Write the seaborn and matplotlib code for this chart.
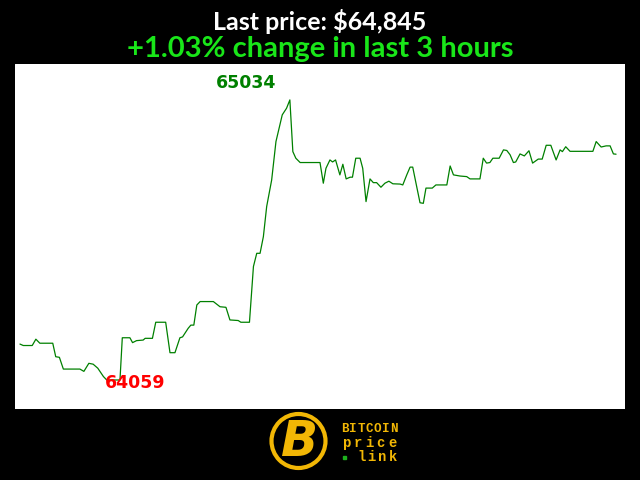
import numpy as np
import pandas as pd
import matplotlib.pyplot as plt
import seaborn as sns
from matplotlib.patches import Circle, Rectangle

sns.set_style("white")

# --- Data: BTC price over the last 3 hours (minutes since start) ---
minutes = [0.0, 1.0, 3.7, 4.8, 6.0, 9.9, 10.8, 11.9, 13.1, 18.1, 19.3, 20.8, 22.1, 23.5,
           25.2, 26.2, 30.2, 30.9, 33.2, 34.0, 35.2, 37.2, 37.8, 40.0, 41.0, 44.0, 45.3,
           46.8, 48.3, 49.1, 50.8, 51.6, 52.5, 53.4, 54.4, 58.4, 60.4, 62.2, 63.4, 65.9,
           66.7, 69.3, 70.5, 71.5, 72.5, 73.5, 74.5, 76.0, 77.3, 79.2, 80.5, 81.5, 82.4,
           83.3, 84.6, 90.6, 91.6, 92.4, 93.6, 94.4, 95.3, 96.6, 97.5, 98.5, 99.7, 100.4,
           101.4, 102.7, 103.5, 104.5, 105.7, 106.7, 107.7, 109.0, 110.2, 111.4, 112.6,
           114.8, 115.6, 116.8, 117.8, 118.6, 119.8, 120.8, 121.8, 122.6, 124.5, 125.6,
           128.9, 129.9, 130.9, 132.9, 134.9, 135.9, 138.9, 139.9, 140.9, 141.9, 142.8,
           144.7, 146.0, 147.0, 148.0, 149.0, 149.7, 151.0, 152.3, 153.7, 154.8, 156.5,
           157.7, 158.9, 160.3, 161.9, 163.1, 163.8, 164.8, 166.1, 173.0, 174.0, 175.5,
           177.0, 178.2, 179.2, 180.0]
prices = [64184, 64179, 64179, 64201, 64187, 64187, 64140, 64138, 64097, 64097, 64089,
          64117, 64114, 64100, 64071, 64059, 64059, 64206, 64206, 64189, 64196, 64198,
          64204, 64204, 64260, 64260, 64154, 64154, 64206, 64209, 64239, 64250, 64250,
          64320, 64332, 64332, 64314, 64312, 64268, 64266, 64260, 64260, 64454, 64500,
          64500, 64558, 64663, 64755, 64889, 64982, 65005, 65034, 64854, 64831, 64816,
          64816, 64744, 64796, 64825, 64818, 64825, 64773, 64810, 64759, 64765, 64765,
          64831, 64831, 64796, 64680, 64759, 64746, 64746, 64730, 64744, 64751, 64742,
          64741, 64738, 64773, 64800, 64800, 64732, 64676, 64674, 64727, 64727, 64738,
          64738, 64804, 64773, 64769, 64767, 64759, 64759, 64831, 64814, 64816, 64831,
          64831, 64860, 64858, 64843, 64816, 64818, 64846, 64839, 64857, 64814, 64828,
          64828, 64876, 64876, 64825, 64860, 64854, 64871, 64855, 64855, 64889, 64870,
          64874, 64874, 64846, 64845]

last_price = "$64,845"
change_text = "+1.03% change in last 3 hours"

df = pd.DataFrame({"minute": minutes, "price": prices})

fig = plt.figure(figsize=(6.4, 4.8), dpi=100, facecolor="black")
ax = fig.add_axes([15 / 640, 1 - 409 / 480, 610 / 640, 345 / 480])
ax.set_facecolor("white")

sns.lineplot(data=df, x="minute", y="price", ax=ax, color="#008000",
             linewidth=0.9, sort=False, estimator=None)

ax.set_xlim(-1.5, 182.7)
ax.set_ylim(63958, 65159)
ax.set_axis_off()
ax.add_patch(Rectangle((0, 0), 1, 1, transform=ax.transAxes,
                       facecolor="white", zorder=-1))

# high / low labels
hi = df.loc[df["price"].idxmax()]
lo = df.loc[df["price"].idxmin()]
ax.annotate(f"{int(hi.price)}", (hi.minute, hi.price), xytext=(-44, 17),
            textcoords="offset pixels", ha="center", va="center",
            color="#008000", fontsize=12.5, fontweight="bold")
ax.annotate(f"{int(lo.price)}", (lo.minute, lo.price), xytext=(28, -3),
            textcoords="offset pixels", ha="center", va="center",
            color="#ff0000", fontsize=12.5, fontweight="bold")

# titles
fig.text(0.5, 1 - 29.5 / 480, f"Last price: {last_price}", ha="center",
         va="baseline", color="white", fontsize=18, fontweight="bold",
         family="Lato")
fig.text(0.5, 1 - 57 / 480, change_text, ha="center", va="baseline",
         color="#19e619", fontsize=21, fontweight="bold", family="Lato")

# logo
gold = "#f2b705"
lax = fig.add_axes([260 / 640, 0, 160 / 640, 75 / 480])
lax.set_xlim(260, 420)
lax.set_ylim(480, 405)
lax.set_axis_off()
lax.add_patch(Circle((298.5, 441), 27, facecolor="black", edgecolor=gold, lw=3))
lax.text(300, 442, "B", ha="center", va="center", color=gold, fontsize=35,
         fontweight="bold", style="italic", family="DejaVu Sans")
# spaced logo lettering: (word, left x, y, pitch per char, size)
for txt, x0, y, pitch, fs in [("BITCOIN", 341, 429, 8.1, 9),
                              ("price", 341, 443, 11.4, 10),
                              ("link", 356, 457, 10.5, 10)]:
    for i, ch in enumerate(txt):
        lax.text(x0 + pitch * (i + 0.5), y, ch, ha="center", va="center",
                 color=gold, fontsize=fs, fontweight="bold",
                 family="Liberation Mono")
lax.add_patch(Rectangle((342.5, 455.5), 3, 3, color="#1db11d"))

fig.savefig("out.png", dpi=100, facecolor="black")
